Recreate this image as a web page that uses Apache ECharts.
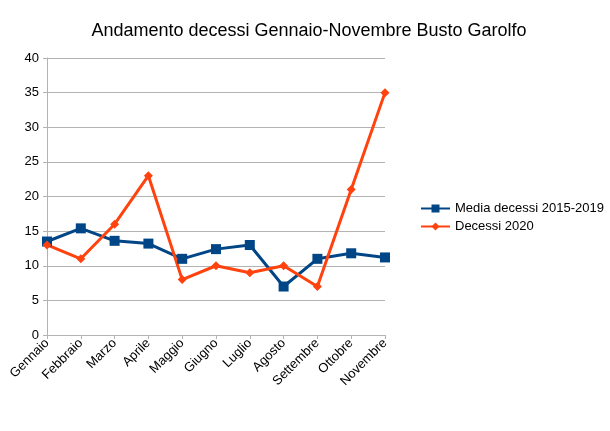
<!DOCTYPE html>
<html><head><meta charset="utf-8">
<script src="https://cdn.jsdelivr.net/npm/echarts@6/dist/echarts.min.js"></script>
<style>html,body{margin:0;padding:0;background:#fff}#c{width:610px;height:431px}</style>
</head><body><div id="c"></div>
<script>
const categories = ['Gennaio','Febbraio','Marzo','Aprile','Maggio','Giugno','Luglio','Agosto','Settembre','Ottobre','Novembre'];
const media = [13.5, 15.4, 13.6, 13.2, 11, 12.4, 13, 7, 11, 11.8, 11.2];
const decessi2020 = [13, 11, 16, 23, 8, 10, 9, 10, 7, 21, 35];
const yTicks = [0, 5, 10, 15, 20, 25, 30, 35, 40];

const chart = echarts.init(document.getElementById('c'));
chart.setOption({
  animation: false,
  textStyle: { fontFamily: 'Liberation Sans' },
  title: {
    text: 'Andamento decessi Gennaio-Novembre Busto Garolfo',
    left: 304, top: 17, textAlign: 'center',
    textStyle: { fontFamily: 'Liberation Sans', fontSize: 18, fontWeight: 'normal', color: '#000' }
  },
  legend: {
    orient: 'vertical', left: 415, top: 197, itemGap: 5,
    itemWidth: 29, itemHeight: 10,
    textStyle: { fontFamily: 'Liberation Sans', fontSize: 13, color: '#000' },
    data: ['Media decessi 2015-2019', 'Decessi 2020']
  },
  grid: { left: 47, right: 225, top: 58, bottom: 96 },
  xAxis: {
    type: 'category', data: categories, boundaryGap: false,
    axisLine: { lineStyle: { color: '#b3b3b3' } },
    axisTick: { show: true, alignWithLabel: true, length: 4, lineStyle: { color: '#b3b3b3' } },
    axisLabel: { rotate: 45, color: '#000', fontSize: 13, fontFamily: 'Liberation Sans', margin: 6, interval: 0 }
  },
  yAxis: {
    type: 'value', min: 0, max: 40, interval: 5,
    axisLine: { show: true, lineStyle: { color: '#b3b3b3' } },
    axisTick: { show: true, length: 4, lineStyle: { color: '#b3b3b3' } },
    splitLine: { lineStyle: { color: '#b3b3b3' } },
    axisLabel: { color: '#000', fontSize: 13, fontFamily: 'Liberation Sans', margin: 8,
      formatter: v => yTicks.includes(v) ? String(v) : '' }
  },
  series: [
    { name: 'Media decessi 2015-2019', type: 'line', data: media,
      symbol: 'rect', symbolSize: 10, lineStyle: { width: 3, color: '#004586' },
      itemStyle: { color: '#004586' } },
    { name: 'Decessi 2020', type: 'line', data: decessi2020,
      symbol: 'diamond', symbolSize: 9, lineStyle: { width: 3, color: '#ff420e' },
      itemStyle: { color: '#ff420e' } }
  ]
});
</script></body></html>
